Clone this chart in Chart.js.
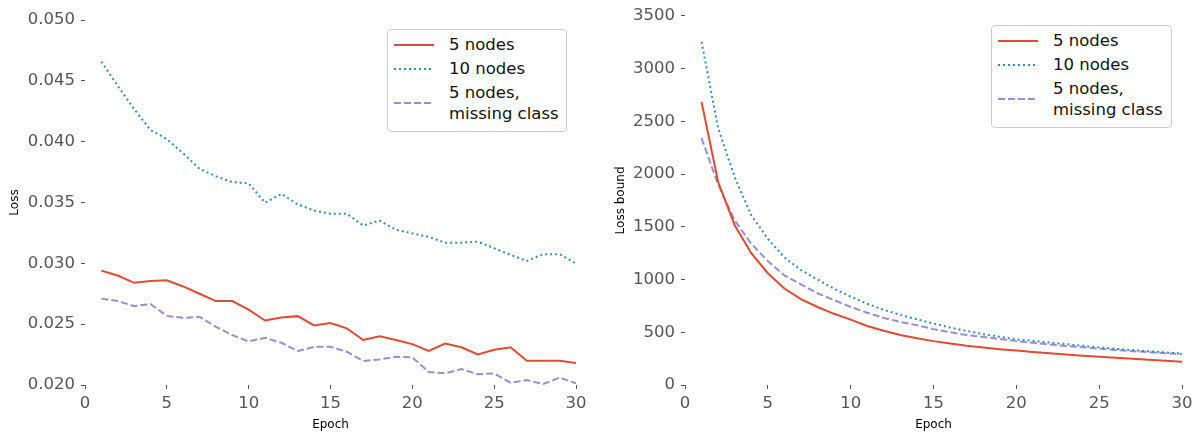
<!DOCTYPE html>
<html>
<head>
<meta charset="utf-8">
<script src="https://cdn.jsdelivr.net/npm/chart.js@4.4.1/dist/chart.umd.min.js"></script>
<style>
  html, body { margin: 0; padding: 0; background: #fff; }
  body { width: 1198px; height: 436px; position: relative; overflow: hidden; font-family: "DejaVu Sans", sans-serif; }
  .panel { position: absolute; top: 0; height: 436px; }
  .legend {
    position: absolute; box-sizing: border-box; height: 103px;
    border: 1px solid #cccccc; border-radius: 4px; background: #fff;
    padding: 4px 6px 7px 6px; font-size: 16.5px; line-height: 21px; color: #111;
  }
  .legend .row { display: flex; align-items: center; margin-bottom: 3px; }
  .legend .row:last-child { margin-bottom: 0; }
  .legend svg { flex: 0 0 40px; margin-right: 15px; }
</style>
</head>
<body>
<div class="panel" style="left:0;width:600px"><canvas id="lossChart" width="600" height="436"></canvas></div>
<div class="panel" style="left:600px;width:598px"><canvas id="boundChart" width="598" height="436"></canvas></div>
<div class="legend" id="lossLegend" style="left:387px;top:29px;width:180px"></div>
<div class="legend" id="boundLegend" style="left:991px;top:25px;width:181px"></div>
<script>
// dữ liệu
const epochs = [1, 2, 3, 4, 5, 6, 7, 8, 9, 10, 11, 12, 13, 14, 15, 16, 17, 18, 19, 20, 21, 22, 23, 24, 25, 26, 27, 28, 29, 30];
const seriesNames = [['5 nodes'], ['10 nodes'], ['5 nodes,', 'missing class']];
const seriesColors = ['#E24A33', '#348ABD', '#988ED5'];
const seriesDash = [[], [2, 3], [7, 3]];

const lossFive = [0.0294, 0.0290, 0.0284, 0.02855, 0.0286, 0.0281, 0.0275, 0.0269, 0.0269, 0.0262,
    0.0253, 0.02555, 0.02566, 0.0249, 0.0251, 0.02465, 0.0237, 0.0240, 0.0237, 0.02336,
    0.0228, 0.0234, 0.0231, 0.02252, 0.0229, 0.0231, 0.0220, 0.0220, 0.0220, 0.0218];
const lossTen = [0.04658, 0.04459, 0.04268, 0.04096, 0.04022, 0.03904, 0.03776, 0.03716, 0.03667, 0.03658,
    0.03498, 0.03571, 0.03484, 0.03434, 0.03407, 0.03407, 0.03311, 0.03352, 0.03276, 0.03246,
    0.03218, 0.0317, 0.0317, 0.03178, 0.03124, 0.0307, 0.0302, 0.03075, 0.03075, 0.02997];
const lossFiveMissing = [0.0271, 0.0269, 0.02648, 0.02666, 0.02568, 0.02552, 0.0256, 0.02478, 0.0241, 0.02358,
    0.02388, 0.02347, 0.02279, 0.02314, 0.02314, 0.02273, 0.02197, 0.0221, 0.02232, 0.02227,
    0.02107, 0.02096, 0.02131, 0.02088, 0.02096, 0.02019, 0.0204, 0.02008, 0.02061, 0.02014];

const boundFive = [2684, 1925, 1515, 1250, 1060, 915, 815, 740, 675, 620,
    560, 515, 475, 443, 416, 394, 373, 356, 340, 326,
    312, 300, 289, 278, 268, 258, 249, 239, 230, 220];
const boundTen = [3254, 2436, 1970, 1610, 1387, 1210, 1090, 1000, 912, 838,
    770, 712, 665, 622, 583, 545, 513, 482, 457, 433,
    419, 404, 388, 372, 357, 343, 331, 320, 309, 298];
const boundFiveMissing = [2341, 1900, 1560, 1340, 1175, 1040, 955, 870, 805, 740,
    685, 636, 598, 567, 530, 500, 474, 456, 436, 416,
    400, 385, 370, 358, 344, 332, 321, 311, 302, 293];

const tickFont = { family: '"DejaVu Sans", sans-serif', size: 16.5 };
const titleFont = { family: '"DejaVu Sans", sans-serif', size: 12 };

function buildDatasets(values) {
    return values.map((vals, i) => ({
        label: seriesNames[i].join(' '),
        data: epochs.map((e, k) => ({ x: e, y: vals[k] })),
        borderColor: seriesColors[i],
        borderWidth: 2,
        borderDash: seriesDash[i],
        pointRadius: 0,
        tension: 0,
        fill: false
    }));
}

function makeChart(id, values, yOpts, yTitle, yTitlePad, padding) {
    return new Chart(document.getElementById(id), {
        type: 'line',
        data: { datasets: buildDatasets(values) },
        options: {
            responsive: false,
            animation: false,
            devicePixelRatio: 1,
            layout: { padding: padding },
            plugins: { legend: { display: false }, tooltip: { enabled: false } },
            scales: {
                x: {
                    type: 'linear', min: 0, max: 30,
                    afterFit: (s) => { s.height = 51; },
                    border: { display: false },
                    grid: { drawOnChartArea: false, drawTicks: true, tickLength: 4, color: '#555' },
                    ticks: { stepSize: 5, color: '#555', font: tickFont, padding: 5, maxRotation: 0 },
                    title: { display: true, text: 'Epoch', color: '#000', font: titleFont, padding: { top: 0, bottom: 4 } }
                },
                y: {
                    type: 'linear', min: yOpts.min, max: yOpts.max,
                    afterFit: (s) => { s.width = 85; },
                    border: { display: false },
                    grid: { drawOnChartArea: false, drawTicks: true, tickLength: 4, color: '#555' },
                    ticks: { stepSize: yOpts.step, color: '#555', font: tickFont, padding: 6, callback: yOpts.fmt },
                    title: { display: true, text: yTitle, color: '#000', font: titleFont, padding: { top: yTitlePad, bottom: 0 } }
                }
            }
        }
    });
}

function buildLegend(id) {
    const box = document.getElementById(id);
    seriesNames.forEach((lines, i) => {
        const row = document.createElement('div');
        row.className = 'row';
        const dash = seriesDash[i].length ? ` stroke-dasharray="${seriesDash[i].join(' ')}"` : '';
        row.innerHTML = `<svg width="40" height="6"><line x1="0" y1="3" x2="40" y2="3" stroke="${seriesColors[i]}" stroke-width="2"${dash}/></svg>` +
            `<div>${lines.join('<br>')}</div>`;
        box.appendChild(row);
    });
}

makeChart('lossChart', [lossFive, lossTen, lossFiveMissing],
    { min: 0.02, max: 0.05, step: 0.005, fmt: (v) => v.toFixed(3) },
    'Loss', 8, { top: 20, right: 24, bottom: 0, left: 0 });

makeChart('boundChart', [boundFive, boundTen, boundFiveMissing],
    { min: 0, max: 3500, step: 500, fmt: (v) => String(v) },
    'Loss bound', 14, { top: 15, right: 16, bottom: 0, left: 0 });

buildLegend('lossLegend');
buildLegend('boundLegend');
</script>
</body>
</html>
